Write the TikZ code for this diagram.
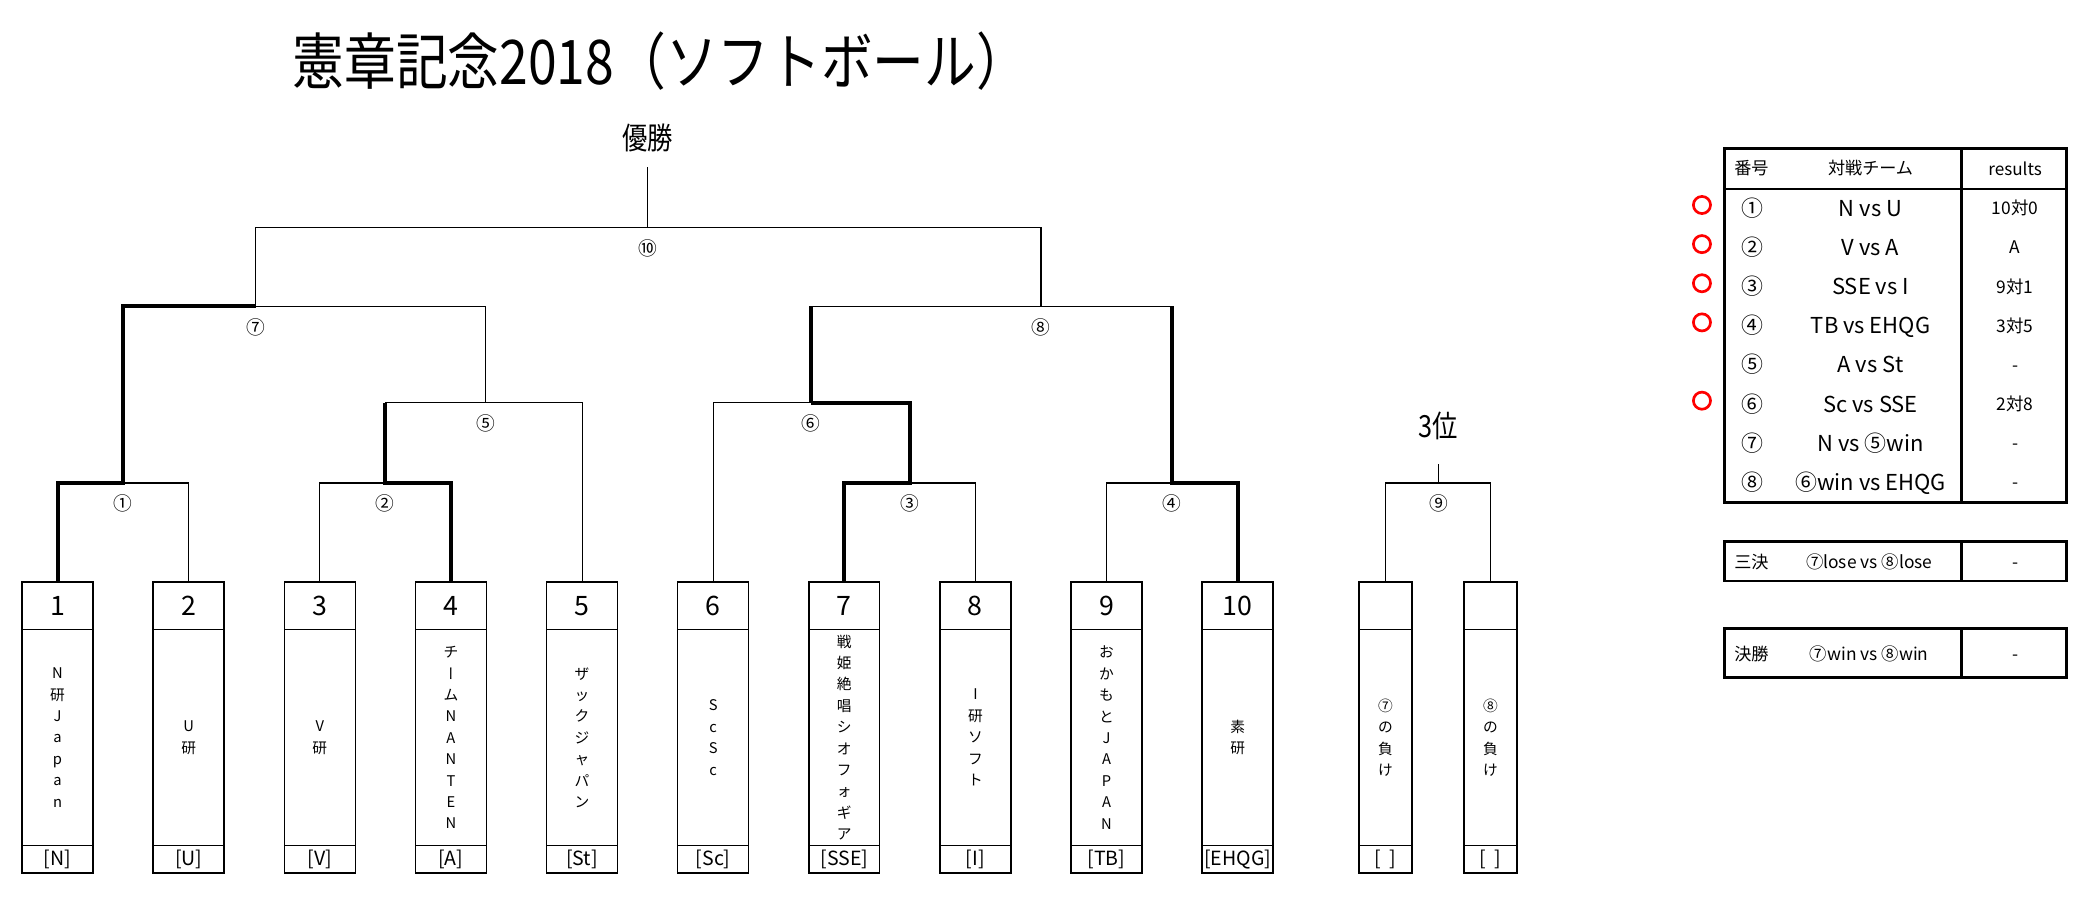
\documentclass[tikz,border=0pt]{standalone}
\usepackage{fontspec}
\setmainfont{Noto Sans CJK JP}
\newfontfamily\tatefont{Noto Sans CJK JP}[RawFeature=+vert]
\usetikzlibrary{positioning}

\begin{document}
\begin{tikzpicture}[x=0.5pt,y=-0.5pt,node distance=0pt,
	every node/.style={inner sep=0pt,outer sep=0pt},
	lose/.style={line width=0.4pt},
	win/.style={line width=1.5pt},
	half/.style={line width=0.65pt},
	numbox/.style={draw,line width=0.55pt,minimum width=26.5pt,minimum height=17.75pt,font=\fontsize{10}{10}\selectfont},
	namebox/.style={draw,line width=0.55pt,minimum width=26.5pt,minimum height=80.75pt,align=center,font=\fontsize{5.5}{8}\selectfont},
	tagbox/.style={draw,line width=0.55pt,minimum width=26.5pt,minimum height=10.25pt,font=\fontsize{7.3}{7.3}\selectfont},
	narrow/.style={minimum width=19.75pt},
	rnd/.style={font=\fontsize{7}{7}\selectfont},
	head/.style={font=\fontsize{11.4}{11.4}\selectfont},
	frame/.style={line width=1.05pt},
	hdr/.style={font=\fontsize{6.4}{6.4}\selectfont},
	vs/.style={font=\fontsize{8.2}{8.2}\selectfont,text height=7.4pt,text depth=1.4pt},
	res/.style={font=\fontsize{6.5}{6.5}\selectfont,text height=5.8pt,text depth=1pt},
	okmark/.style={circle,draw=red,line width=1pt,minimum size=6.4pt}]
	\useasboundingbox (0,0) rectangle (1568,671.15);

	\node[font=\fontsize{23}{23}\selectfont] (title) at (493.5,46) {\scalebox{0.84}[1]{憲章記念2018（ソフトボール）}};
	\node[head] (champtxt) at (484,103) {\scalebox{0.83}[1]{優勝}};
	\node[head] (thirdtxt) at (1075,318) {\scalebox{0.83}[1]{3位}};
	\coordinate (champ) at (484,125);
	\coordinate (third) at (1075,347);

	% teams
	\foreach \tag/\name [count=\i] in {{[N]}/{N\\研\\J\\a\\p\\a\\n},{[U]}/{U\\研},{[V]}/{V\\研},
		{[A]}/{チ\\{\tatefont ー}\\ム\\N\\A\\N\\T\\E\\N},{[St]}/{ザ\\ッ\\ク\\ジ\\ャ\\パ\\ン},
		{[Sc]}/{S\\c\\S\\c},{[SSE]}/{戦\\姫\\絶\\唱\\シ\\オ\\フ\\ォ\\ギ\\ア},{[I]}/{I\\研\\ソ\\フ\\ト},
		{[TB]}/{お\\か\\も\\と\\J\\A\\P\\A\\N},{[EHQG]}/{素\\研}}
	{
		\node[numbox] (t\i) at ({43+98*(\i-1)},452.75) {\i};
		\node[namebox,below=0pt of t\i] (n\i) {\name};
		\node[tagbox,below=0pt of n\i] (g\i) {\tag};
	}
	\node[numbox,narrow] (t11) at (1035.5,452.75) {};
	\node[namebox,narrow,below=0pt of t11] (n11) {⑦\\の\\負\\け};
	\node[tagbox,narrow,below=0pt of n11] (g11) {[\ \ ]};
	\node[numbox,narrow] (t12) at (1114,452.75) {};
	\node[namebox,narrow,below=0pt of t12] (n12) {⑧\\の\\負\\け};
	\node[tagbox,narrow,below=0pt of n12] (g12) {[\ \ ]};

	% matches
	\coordinate (m1) at (92,361);
	\coordinate (m2) at (288,361);
	\coordinate (m3) at (680,361);
	\coordinate (m4) at (876,361);
	\coordinate (m5) at (363,301);
	\coordinate (m6) at (606,301);
	\coordinate (m7) at (191,229);
	\coordinate (m8) at (778,229);
	\coordinate (m9) at (1075,361);
	\coordinate (m10) at (484,170);
	\foreach \m/\t in {1/①,2/②,3/③,4/④,5/⑤,6/⑥,7/⑦,8/⑧,9/⑨,10/⑩}
		\node[rnd,below=4.4pt of m\m] (r\m) {\t};

	\draw[win] (t1.north) |- (m1) |- (m7);
	\draw[lose] (m1) -| (t2.north);
	\draw[win] (t4.north) |- (m2) -- (m2 |- m5);
	\draw[lose] (m2) -| (t3.north);
	\draw[lose] (m2 |- m5) -| (t5.north);
	\draw[lose] (m5) |- (m7);
	\draw[win] (t7.north) |- (m3) |- (m6);
	\draw[lose] (m3) -| (t8.north);
	\draw[lose] (m6) -| (t6.north);
	\draw[win] (t10.north) |- (m4) -- (m4 |- m8);
	\draw[lose] (m4) -| (t9.north);
	\draw[win] (m6) -- (m6 |- m8);
	\draw[half] (m6 |- m8) -- (m4 |- m8);
	\draw[lose] (m7) |- (m10) -| (m8);
	\draw[lose] (m10) -- (champ);
	\draw[lose] (t11.north) |- (m9) -| (t12.north);
	\draw[lose] (m9) -- (third);

	% results table
	\draw[frame] (1288.7,110.9) rectangle (1544.6,375.7);
	\draw[frame] (1466.2,110.9) -- (1466.2,375.7);
	\draw[half] (1288.7,141.3) -- (1544.6,141.3);
	\node[hdr] (h1) at (1309,125.8) {番号};
	\node[hdr] (h2) at (1398,125.8) {対戦チーム};
	\node[hdr] (h3) at (1506,125.8) {results};
	\foreach \no/\vs/\res/\ok [count=\i] in {①/N vs U/10対0/1,②/V vs A/A/1,③/SSE vs I/9対1/1,
		④/TB vs EHQG/3対5/1,⑤/A vs St/-/0,⑥/Sc vs SSE/2対8/1,⑦/N vs ⑤win/-/0,⑧/⑥win vs EHQG/-/0}
	{
		\node[vs] (no\i) at (1310,{155.7+29.25*(\i-1)}) {\no};
		\node[vs] (vs\i) at (1398,{155.7+29.25*(\i-1)}) {\vs};
		\node[res] (res\i) at (1506,{155.7+29.25*(\i-1)}) {\res};
		\ifnum\ok=1
			\node[okmark] (ok\i) at (1272,{153.2+29.25*(\i-1)}) {};
		\fi
	}

	\draw[frame] (1288.7,404.8) rectangle (1544.6,434.2);
	\draw[frame] (1466.2,404.8) -- (1466.2,434.2);
	\node[hdr] (s1) at (1309,420) {三決};
	\node[res] (s2) at (1397,420) {⑦lose vs ⑧lose};
	\node[res] (s3) at (1506,420) {-};

	\draw[frame] (1288.7,469.6) rectangle (1544.6,506.3);
	\draw[frame] (1466.2,469.6) -- (1466.2,506.3);
	\node[hdr] (f1) at (1309,488.5) {決勝};
	\node[res] (f2) at (1397,488.5) {⑦win vs ⑧win};
	\node[res] (f3) at (1506,488.5) {-};
\end{tikzpicture}
\end{document}
